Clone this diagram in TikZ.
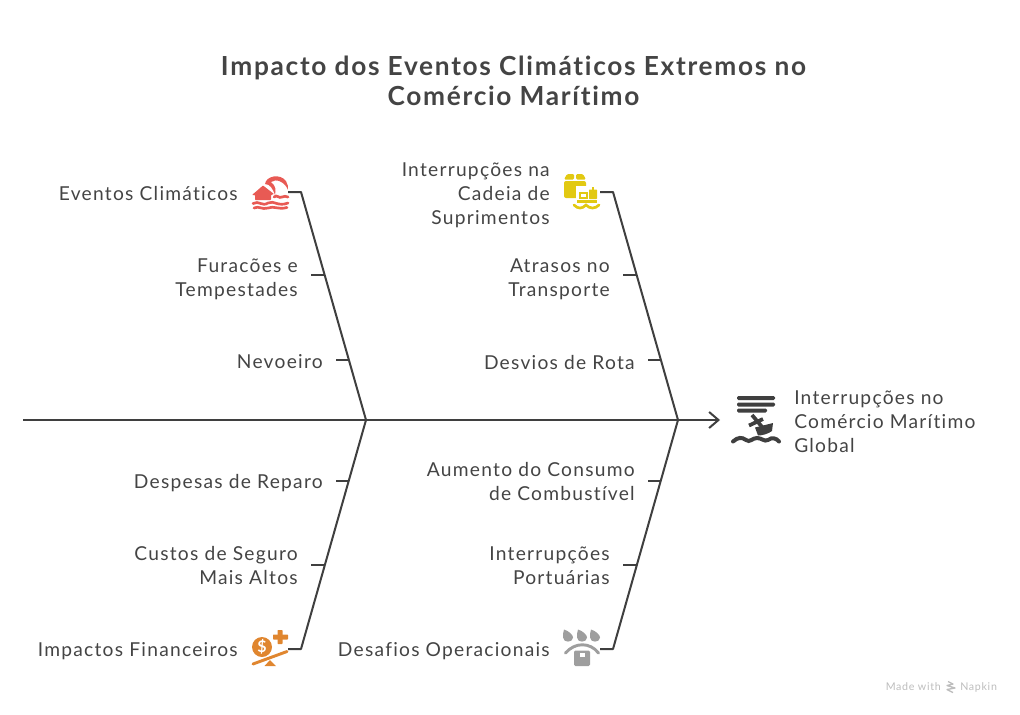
\documentclass[tikz,border=0pt]{standalone}
\usepackage{fontspec}
\setmainfont{Lato}[LetterSpace=6.5,Ligatures=CommonOff]
\usepackage{xcolor}
\usetikzlibrary{arrows.meta}
\definecolor{inkgrey}{HTML}{444444}
\definecolor{bonegrey}{HTML}{3F3F3F}
\definecolor{iconred}{HTML}{E85A54}
\definecolor{iconyellow}{HTML}{E2C912}
\definecolor{iconorange}{HTML}{E0862F}
\definecolor{icongrey}{HTML}{9E9E9E}
\definecolor{brandgrey}{HTML}{BDBDBD}
\tikzset{bone/.style={draw=bonegrey, line width=1.5pt, line join=round}}
\tikzset{lbl/.style={anchor=east, align=right, text=inkgrey, inner ysep=0pt, inner xsep=9.75pt, font=\fontsize{14.4}{18}\selectfont}}
\tikzset{wave/.style={line width=2pt, line cap=round}}

\begin{document}
\begin{tikzpicture}[x=.75pt, y=-.75pt]
\useasboundingbox (0,0) rectangle (1020,714);

% title
\node [align=center, text=inkgrey, font=\fontsize{19.7}{22.5}\selectfont\bfseries] (title) at (513.5,80.5) {Impacto dos Eventos Climáticos Extremos no\\Comércio Marítimo};

% spine and bones
\coordinate (spinestart) at (23,420);
\coordinate (jointA) at (366,420);
\coordinate (jointB) at (678,420);
\coordinate (spineend) at (720,420);
\coordinate (topA) at (301,192);
\coordinate (topB) at (613,192);
\coordinate (botA) at (301,649);
\coordinate (botB) at (613,649);
\coordinate (stubtopA) at (288,192);
\coordinate (stubtopB) at (600,192);
\coordinate (stubbotA) at (288,649);
\coordinate (stubbotB) at (600,649);
\draw[bone, -{Straight Barb[length=7pt,width=12pt]}] (spinestart) -- (spineend);
\draw[bone] (jointA) -- (topA) -- (stubtopA);
\draw[bone] (jointB) -- (topB) -- (stubtopB);
\draw[bone] (jointA) -- (botA) -- (stubbotA);
\draw[bone] (jointB) -- (botB) -- (stubbotB);

% labels
\node [lbl] (eventos) at (251,194) {Eventos Climáticos};
\node [lbl] (cadeia) at (563,195) {Interrupções na\\Cadeia de\\Suprimentos};
\node [lbl] (furacoes) at (311,279) {Furacões e\\Tempestades};
\node [lbl] (atrasos) at (623,279) {Atrasos no\\Transporte};
\node [lbl] (nevoeiro) at (336,362) {Nevoeiro};
\node [lbl] (desvios) at (648,362) {Desvios de Rota};
\node [lbl] (reparo) at (336,483) {Despesas de Reparo};
\node [lbl] (consumo) at (648,481.5) {Aumento do Consumo\\de Combustível};
\node [lbl] (seguro) at (311,565.5) {Custos de Seguro\\Mais Altos};
\node [lbl] (portuarias) at (623,566) {Interrupções\\Portuárias};
\node [lbl] (financeiros) at (251,651) {Impactos Financeiros};
\node [lbl] (operacionais) at (563,651) {Desafios Operacionais};
\node [lbl, anchor=west, align=left, inner xsep=0pt] (global) at (794,422) {Interrupções no\\Comércio Marítimo\\Global};

% ticks
\coordinate (tickfuracoes) at (325,275);
\coordinate (tickatrasos) at (637,275);
\coordinate (ticknevoeiro) at (349,360);
\coordinate (tickdesvios) at (661,360);
\coordinate (tickreparo) at (349,481);
\coordinate (tickconsumo) at (661,481);
\coordinate (tickseguro) at (325,565);
\coordinate (tickportuarias) at (637,565);
\draw[bone] (tickfuracoes) -- (tickfuracoes -| furacoes.east);
\draw[bone] (tickatrasos) -- (tickatrasos -| atrasos.east);
\draw[bone] (ticknevoeiro) -- (ticknevoeiro -| nevoeiro.east);
\draw[bone] (tickdesvios) -- (tickdesvios -| desvios.east);
\draw[bone] (tickreparo) -- (tickreparo -| reparo.east);
\draw[bone] (tickconsumo) -- (tickconsumo -| consumo.east);
\draw[bone] (tickseguro) -- (tickseguro -| seguro.east);
\draw[bone] (tickportuarias) -- (tickportuarias -| portuarias.east);

% red icon
\fill[iconred, rounded corners=.5pt] (252,195) -- (263,185.5) -- (274,194) -- (271,195) -- (271,200) -- (255,200) -- (255,195) -- cycle;
\fill[iconred] (265,184) .. controls (266,176) and (280,173) .. (286,181) .. controls (288,184) and (288,187) .. (288,190) .. controls (285,182) and (276,178) .. (271,182) .. controls (276,186) and (276,190) .. (275,195) .. controls (273,189) and (270,184) .. (265,184) -- cycle;
\draw[iconred, wave] (274,197) .. controls (277,194) and (279,199) .. (282,197) .. controls (284,196) and (286,196) .. (288,197);
\draw[iconred, wave] (253,203.5) .. controls (259,200) and (262,207) .. (268,203) .. controls (274,200) and (278,207) .. (288,203);
\draw[iconred, wave] (254,208) .. controls (259,205.5) and (262,210) .. (268,208) .. controls (274,205.5) and (278,210) .. (287,207.5);

% yellow icon
\fill[iconyellow, rounded corners=1.5pt] (564,181) -- (586,181) -- (586,198) -- (564,198) -- cycle;
\fill[iconyellow, rounded corners=1pt] (564,179.5) -- (567,174) -- (574.2,174) -- (574.2,179.5) -- cycle;
\fill[iconyellow, rounded corners=1pt] (576,179.5) -- (576,174) -- (583,174) -- (586,179.5) -- cycle;
\fill[white] (576,186) rectangle (600,212);
\fill[iconyellow] (579,192) rectangle (588,199);
\fill[white] (581,193.5) rectangle (586,196.5);
\fill[iconyellow, rounded corners=.5pt] (589,189.5) rectangle (597,199);
\fill[iconyellow] (591.5,186.5) rectangle (594,191);
\fill[iconyellow] (577,199.5) rectangle (597,202.5);
\draw[iconyellow, wave] (574,205) .. controls (578,209) and (582,209) .. (586,205) .. controls (590,209) and (595,209) .. (599,205);

% dark icon
\fill[bonegrey, rounded corners=1pt] (737,396) rectangle (775,400);
\fill[bonegrey, rounded corners=1pt] (737,402.5) rectangle (775,406.5);
\fill[bonegrey, rounded corners=1pt] (737,408.5) rectangle (767,412.5);
\draw[bonegrey, line width=2.8pt] (752,415) -- (763,428);
\draw[bonegrey, line width=2.8pt] (749,425.5) -- (763,419);
\fill[bonegrey] (755,427.5) -- (773,423) -- (772,431) .. controls (768,434) and (762,435.5) .. (758,435.5) -- cycle;
\draw[bonegrey, line width=3pt, line cap=round] (733,441.5) .. controls (738,437) and (742,437) .. (746,440) .. controls (750,443) and (752,438) .. (757,438) .. controls (762,438) and (764,442) .. (768,440) .. controls (772,437) and (776,438) .. (779,441.5);

% orange icon
\fill[iconorange] (262,647) circle [radius=10];
\node [text=white, inner sep=0pt, font=\fontsize{12}{12}\selectfont\bfseries] (dollar) at (262,647) {\$};
\fill[iconorange, rounded corners=.5pt] (277.5,630) rectangle (282.5,644);
\fill[iconorange, rounded corners=.5pt] (273,634.5) rectangle (288,639.5);
\draw[iconorange, line width=2.2pt, line cap=round] (253,664) -- (287,651.5);
\fill[iconorange] (270,660) -- (276,666) -- (264.5,666) -- cycle;

% grey icon
\foreach \dropx in {568,582,595} {
  \fill[icongrey] (\dropx-4,629.5) .. controls (\dropx+1,631) and (\dropx+5,635) .. (\dropx+5,637.5) .. controls (\dropx+5,643) and (\dropx-5,643) .. (\dropx-5,637.5) .. controls (\dropx-5,635) and (\dropx-5,632) .. (\dropx-4,629.5) -- cycle;
}
\draw[icongrey, line width=2.2pt, line cap=round] (565.5,653) .. controls (575,642) and (590,642) .. (598.5,653);
\fill[icongrey, rounded corners=1pt] (574,650.5) rectangle (590,666);
\fill[white] (579.5,652.5) rectangle (585,657);

% brand mark
\node [anchor=east, text=brandgrey, inner sep=0pt, font=\fontsize{8}{10}\selectfont] (madewith) at (941,687) {Made with};
\node [anchor=west, text=brandgrey, inner sep=0pt, font=\fontsize{8}{10}\selectfont] (napkin) at (960,687) {Napkin};
\draw[brandgrey, line width=1pt, line join=round] (948,681.5) -- (953,684) -- (947,685.5) -- (955,688) -- (947,689.5) -- (953,692.5);
\end{tikzpicture}
\end{document}
